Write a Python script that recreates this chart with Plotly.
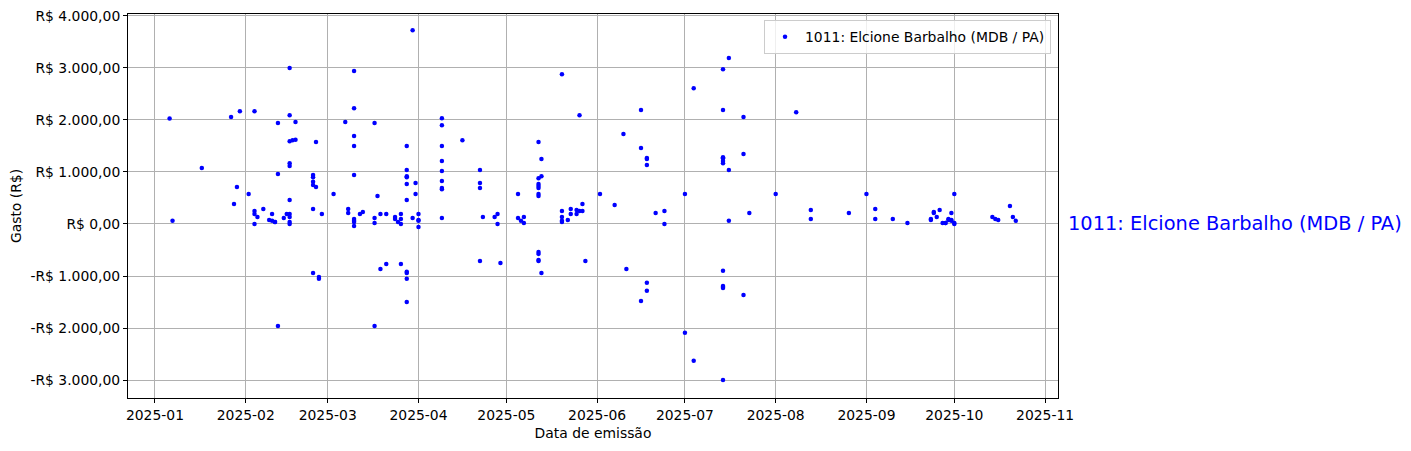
import plotly.graph_objects as go

# ---- data ----
dates = [
    "2025-01-06", "2025-01-07", "2025-01-17", "2025-01-27", "2025-01-29", "2025-01-28", "2025-01-30",
    "2025-02-02", "2025-02-04", "2025-02-04", "2025-02-04", "2025-02-04", "2025-02-05", "2025-02-07",
    "2025-02-10", "2025-02-09", "2025-02-10", "2025-02-11", "2025-02-11", "2025-02-12", "2025-02-12",
    "2025-02-12", "2025-02-14", "2025-02-15", "2025-02-16", "2025-02-16", "2025-02-17", "2025-02-18",
    "2025-02-16", "2025-02-16", "2025-02-16", "2025-02-16", "2025-02-16", "2025-02-16", "2025-02-16",
    "2025-02-16", "2025-02-18", "2025-02-24", "2025-02-24", "2025-02-24", "2025-02-24", "2025-02-25",
    "2025-02-25", "2025-02-24", "2025-02-24", "2025-02-26", "2025-02-26", "2025-02-27", "2025-03-03",
    "2025-03-07", "2025-03-08", "2025-03-08", "2025-03-10", "2025-03-10", "2025-03-10", "2025-03-10",
    "2025-03-10", "2025-03-10", "2025-03-10", "2025-03-10", "2025-03-10", "2025-03-12", "2025-03-13",
    "2025-03-17", "2025-03-17", "2025-03-17", "2025-03-18", "2025-03-19", "2025-03-19", "2025-03-17",
    "2025-03-21", "2025-03-21", "2025-03-24", "2025-03-24", "2025-03-25", "2025-03-26", "2025-03-26",
    "2025-03-26", "2025-03-26", "2025-03-28", "2025-03-28", "2025-03-28", "2025-03-28", "2025-03-28",
    "2025-03-28", "2025-03-28", "2025-03-28", "2025-03-28", "2025-03-28", "2025-03-30", "2025-03-30",
    "2025-03-31", "2025-03-31", "2025-04-01", "2025-04-01", "2025-04-01", "2025-04-01", "2025-04-09",
    "2025-04-09", "2025-04-09", "2025-04-09", "2025-04-09", "2025-04-09", "2025-04-09", "2025-04-09",
    "2025-04-09", "2025-04-16", "2025-04-22", "2025-04-22", "2025-04-22", "2025-04-22", "2025-04-23",
    "2025-04-27", "2025-04-28", "2025-04-28", "2025-04-29", "2025-05-05", "2025-05-05", "2025-05-06",
    "2025-05-07", "2025-05-07", "2025-05-12", "2025-05-12", "2025-05-13", "2025-05-12", "2025-05-12",
    "2025-05-12", "2025-05-12", "2025-05-12", "2025-05-13", "2025-05-12", "2025-05-12", "2025-05-12",
    "2025-05-12", "2025-05-13", "2025-05-20", "2025-05-20", "2025-05-20", "2025-05-22", "2025-05-20",
    "2025-05-20", "2025-05-23", "2025-05-23", "2025-05-25", "2025-05-26", "2025-05-25", "2025-05-26",
    "2025-05-27", "2025-05-27", "2025-05-28", "2025-06-02", "2025-06-07", "2025-06-10", "2025-06-11",
    "2025-06-16", "2025-06-16", "2025-06-16", "2025-06-18", "2025-06-18", "2025-06-18", "2025-06-18",
    "2025-06-18", "2025-06-21", "2025-06-24", "2025-06-24", "2025-07-01", "2025-07-01", "2025-07-04",
    "2025-07-04", "2025-07-14", "2025-07-14", "2025-07-14", "2025-07-14", "2025-07-14", "2025-07-14",
    "2025-07-14", "2025-07-14", "2025-07-14", "2025-07-14", "2025-07-14", "2025-07-16", "2025-07-16",
    "2025-07-16", "2025-07-21", "2025-07-21", "2025-07-21", "2025-07-23", "2025-08-01", "2025-08-08",
    "2025-08-13", "2025-08-13", "2025-08-26", "2025-09-01", "2025-09-04", "2025-09-04", "2025-09-10",
    "2025-09-15", "2025-09-23", "2025-09-23", "2025-09-24", "2025-09-24", "2025-09-25", "2025-09-26",
    "2025-09-27", "2025-09-28", "2025-09-28", "2025-09-29", "2025-09-29", "2025-09-30", "2025-09-30",
    "2025-09-30", "2025-10-01", "2025-10-01", "2025-10-01", "2025-10-14", "2025-10-15", "2025-10-16",
    "2025-10-20", "2025-10-21", "2025-10-22",
]
values = [
    2030, 60, 1075, 2055, 710, 385, 2170,
    575, 2170, 190, 250, 0, 135, 290,
    190, 75, 60, 40, 40, 1940, 960,
    -1960, 115, 190, 3000, 2090, 1610, 1620,
    1590, 1170, 1115, 460, 190, 135, 40,
    0, 1960, 940, 900, 810, 750, 710,
    1575, 290, -940, -1020, -1055, 190, 575,
    1960, 290, 210, 2940, 2225, 1690, 1500,
    940, 95, 60, 40, -40, 190, 230,
    115, 20, 1940, 540, 190, -865, -1960,
    -770, 190, 135, 95, 40, 190, 95,
    0, -770, 1500, 1040, 920, 900, 770,
    -920, -940, -1055, -1500, 460, 3725, 115,
    790, 575, 75, 60, 190, -60, 2035,
    1900, 1500, 1210, 1020, 825, 690, 670,
    115, 1610, 1040, 790, 690, -710, 135,
    135, 190, 0, -750, 575, 115, 60,
    20, 135, 1575, 880, 920, 770, 730,
    690, 575, 540, 1250, -540, -575, -690,
    -710, -940, 40, 2880, 60, 75, 250,
    135, 290, 190, 270, 250, 190, 2090,
    385, 250, -710, 575, 365, 1730, -865,
    2190, 1460, -1480, 1270, 1250, 1135, -1130,
    -1285, 210, 250, 0, 575, -2090, 2610,
    -2630, 2975, 2190, 1285, 1265, 1210, 1170,
    -900, -1190, -1210, -1230, -3000, 3190, 1040,
    60, 2055, 1345, -1365, 210, 575, 2150,
    270, 95, 210, 575, 290, 95, 95,
    20, 75, 95, 210, 230, 135, 270,
    20, 20, 20, 75, 95, 60, 75,
    210, 20, 0, 575, 135, 95, 75,
    345, 135, 60,
]
series_name = "1011: Elcione Barbalho (MDB / PA)"
y_tick_vals = [-3000, -2000, -1000, 0, 1000, 2000, 3000, 4000]
y_tick_text = ["-R$ 3.000,00", "-R$ 2.000,00", "-R$ 1.000,00", "R$ 0,00",
               "R$ 1.000,00", "R$ 2.000,00", "R$ 3.000,00", "R$ 4.000,00"]
x_tick_vals = ["2025-01-01", "2025-02-01", "2025-03-01", "2025-04-01", "2025-05-01", "2025-06-01",
               "2025-07-01", "2025-08-01", "2025-09-01", "2025-10-01", "2025-11-01"]
x_tick_text = ["2025-01", "2025-02", "2025-03", "2025-04", "2025-05", "2025-06",
               "2025-07", "2025-08", "2025-09", "2025-10", "2025-11"]

FONT = "DejaVu Sans"

fig = go.Figure()
fig.add_trace(go.Scatter(
    x=dates, y=values, mode="markers", name=series_name,
    marker=dict(color="blue", size=4.5, line=dict(width=0)),
    showlegend=True,
))

fig.add_annotation(
    x=1.009, xref="paper", y=0, yref="y", xanchor="left", yanchor="middle",
    text=series_name, showarrow=False, font=dict(family=FONT, size=19.4, color="blue"),
)

axis_common = dict(
    showline=True, linecolor="black", linewidth=1, mirror=True,
    ticks="outside", ticklen=4, tickcolor="black",
    showgrid=True, gridcolor="#b0b0b0", gridwidth=1,
    zeroline=False, tickfont=dict(family=FONT, size=13.9, color="black"),
    automargin=False, ticklabeloverflow="allow",
)

# page body has an 8px default margin, so the figure is sized/offset to compensate
fig.update_layout(
    width=1403, height=443,
    margin=dict(l=120, r=353, t=6, b=53, autoexpand=False),
    paper_bgcolor="white", plot_bgcolor="white",
    font=dict(family=FONT, size=13.9, color="black"),
    xaxis=dict(
        range=["2024-12-22 19:00", "2025-11-05 10:00"],
        tickvals=x_tick_vals, ticktext=x_tick_text,
        title=dict(text="Data de emissão", font=dict(family=FONT, size=13.9), standoff=6),
        **axis_common,
    ),
    yaxis=dict(
        range=[-3346, 4038],
        tickvals=y_tick_vals, ticktext=y_tick_text,
        title=dict(text="Gasto (R$)", font=dict(family=FONT, size=13.9), standoff=6),
        **axis_common,
    ),
    legend=dict(
        x=0.9925, y=0.984, xanchor="right", yanchor="top",
        bordercolor="#cccccc", borderwidth=1, bgcolor="rgba(255,255,255,0.8)",
        font=dict(family=FONT, size=13.9, color="black"),
        itemsizing="trace",
    ),
)

fig.write_html("out.html")
